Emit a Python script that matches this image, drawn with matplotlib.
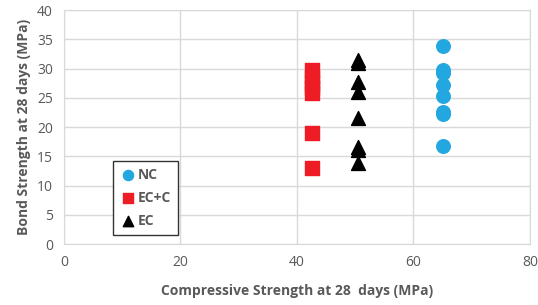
import matplotlib
matplotlib.use("Agg")
import matplotlib.pyplot as plt

# compressive strength (x) and bond strength (y), MPa
nc_x = [65, 65, 65, 65, 65, 65, 65, 65]
nc_y = [33.8, 29.8, 29.2, 27.2, 25.3, 22.6, 22.3, 16.8]

ecc_x = [42.5, 42.5, 42.5, 42.5, 42.5, 42.5, 42.5]
ecc_y = [29.7, 28.6, 27.6, 26.6, 25.8, 19.0, 13.0]

ec_x = [50.5, 50.5, 50.5, 50.5, 50.5, 50.5, 50.5, 50.5]
ec_y = [31.5, 31.0, 27.7, 26.0, 21.5, 16.6, 16.0, 13.9]

grey = "#595959"
plt.rcParams["font.family"] = ["Open Sans", "DejaVu Sans"]

fig = plt.figure(figsize=(5.38, 3.05), dpi=100)
ax = fig.add_axes([0.119, 0.2, 0.866, 0.767])

ax.scatter(nc_x, nc_y, s=95, marker="o", color="#22A7E0", label="NC", zorder=3)
ax.scatter(ecc_x, ecc_y, s=100, marker="s", color="#EE1C24", label="EC+C", zorder=3)
ax.scatter(ec_x, ec_y, s=100, marker="^", color="black", label="EC", zorder=3)

ax.set_xlim(0, 80)
ax.set_ylim(0, 40)
ax.set_xticks(range(0, 81, 20))
ax.set_yticks(range(0, 41, 5))
ax.grid(True, color="#D9D9D9", linewidth=1)
ax.set_axisbelow(True)
for sp in ax.spines.values():
    sp.set_color("#D9D9D9")
ax.tick_params(length=0, labelsize=10, labelcolor=grey, pad=8)

ax.set_xlabel("Compressive Strength at 28  days (MPa)", fontsize=10,
              fontweight="bold", color=grey, labelpad=10)
ax.set_ylabel("Bond Strength at 28 days (MPa)", fontsize=10,
              fontweight="bold", color=grey, labelpad=4)

leg = ax.legend(loc="upper left", bbox_to_anchor=(0.09, 0.385), fancybox=False,
                framealpha=1, edgecolor="#333333", fontsize=10, handletextpad=0.1,
                borderpad=0.5, labelspacing=0.65, handlelength=1.2, markerscale=0.75)
leg.get_frame().set_linewidth(1)
for t in leg.get_texts():
    t.set_fontweight("bold")
    t.set_color(grey)

fig.savefig("out.png", dpi=100)
